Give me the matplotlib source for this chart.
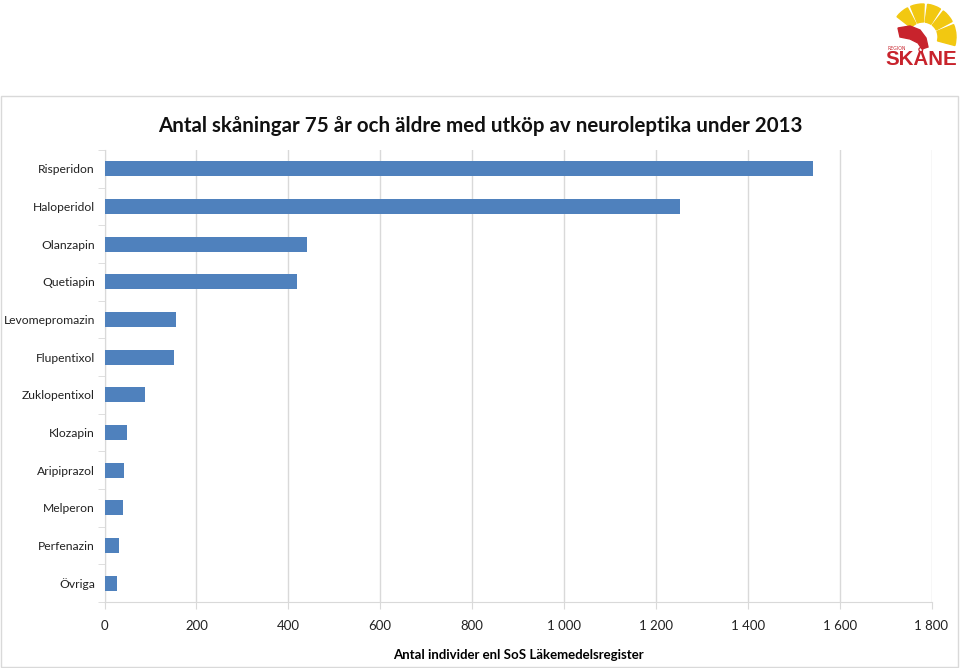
import matplotlib
matplotlib.use("Agg")
import matplotlib.pyplot as plt
from matplotlib.patches import Rectangle, Wedge, Polygon
from matplotlib.ticker import FuncFormatter
import numpy as np

categories = ["Risperidon", "Haloperidol", "Olanzapin", "Quetiapin", "Levomepromazin",
              "Flupentixol", "Zuklopentixol", "Klozapin", "Aripiprazol", "Melperon",
              "Perfenazin", "Övriga"]
values = [1543, 1253, 440, 420, 156, 152, 89, 48, 42, 40, 32, 28]
xticks = [0, 200, 400, 600, 800, 1000, 1200, 1400, 1600, 1800]

title = "Antal skåningar 75 år och äldre med utköp av neuroleptika under 2013"
xlabel = "Antal individer enl SoS Läkemedelsregister"

fig = plt.figure(figsize=(9.6, 6.68), dpi=100)
ax = fig.add_axes([104.5/960, 1-602/668, (931.5-104.5)/960, (602-150)/668])

y = np.arange(len(categories))
ax.barh(y, values, height=0.4, color="#4F81BD", zorder=3)
ax.set_ylim(len(categories)-0.5, -0.5)
ax.set_xlim(0, 1800)
ax.set_xticks(xticks)
ax.xaxis.set_major_formatter(FuncFormatter(lambda v, p: f"{int(v):,}".replace(",", " ")))
ax.set_yticks(y)
ax.set_yticklabels(categories)
ax.set_yticks(np.arange(-0.5, len(categories)+0.5, 1), minor=True)
ax.tick_params(axis="y", which="major", length=0, pad=7, labelsize=8.7, labelcolor="#222222")
ax.tick_params(axis="y", which="minor", length=5, color="#d9d9d9")
ax.tick_params(axis="x", which="major", length=5, color="#d9d9d9", pad=8, labelsize=9.5, labelcolor="#222222")
for lab in ax.get_xticklabels() + ax.get_yticklabels():
    lab.set_family("Lato")
ax.grid(axis="x", color="#d9d9d9", linewidth=1, zorder=0)
for s in ["top", "right"]:
    ax.spines[s].set_visible(False)
for s in ["left", "bottom"]:
    ax.spines[s].set_color("#d9d9d9")
ax.set_xlabel(xlabel, fontsize=9.5, fontweight="bold", family="Lato", labelpad=12)

fig.text(480/960, 1-126/668, title, ha="center", va="center", fontsize=14.8,
         fontweight="bold", family="Lato", color="#111111")

# outer frame
fig.patches.append(Rectangle((1/960, 1/668), 957/960, (667-96)/668,
                             transform=fig.transFigure, fill=False,
                             edgecolor="#d9d9d9", linewidth=1))

# logo (approximation), 1 unit = 1 px, origin at (880, 75) from top-left
lax = fig.add_axes([880/960, 1-75/668, 80/960, 75/668])
lax.set_xlim(0, 80); lax.set_ylim(0, 75); lax.axis("off")
c = (43, 75-37)
for a1, a2 in [(118, 142), (88, 112), (58, 82), (28, 52), (-15, 22)]:
    lax.add_patch(Wedge(c, 33, a1, a2, width=18, color="#F2C811"))
red_pts = [(18, 28), (30, 26), (40, 30), (46, 38), (48, 47), (42, 49),
           (38, 43), (30, 39), (20, 37)]
lax.add_patch(Polygon([(px, 75-py) for px, py in red_pts], closed=True, color="#C8232C"))
lax.text(41.5, 10, "SKÅNE", ha="center", va="baseline", fontsize=14.8, fontweight="bold",
         color="#C8232C", family="Liberation Sans")
lax.text(7, 27, "REGION", ha="left", va="center", fontsize=3.3, color="#C8232C")

fig.savefig("out.png", dpi=100, facecolor="white")
